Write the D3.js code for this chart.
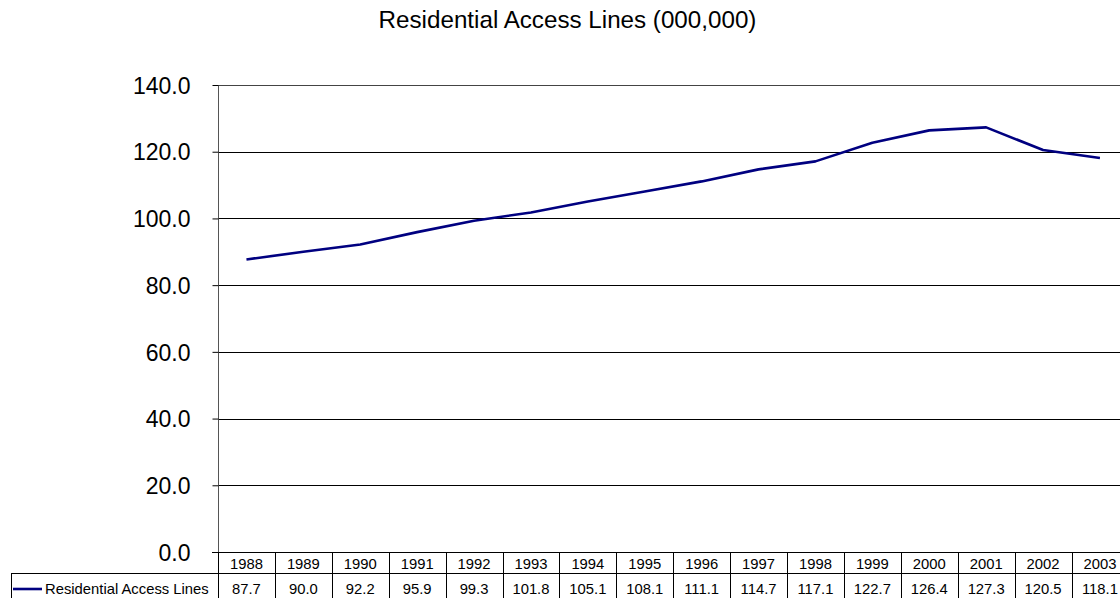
<!DOCTYPE html>
<html>
<head>
<meta charset="utf-8">
<script src="https://cdn.jsdelivr.net/npm/d3@7"></script>
<style>
  html, body { margin: 0; padding: 0; background: #fff; overflow: hidden; }
  svg { display: block; font-family: "Liberation Sans", Arial, sans-serif; }
</style>
</head>
<body>
<svg id="chart" width="1120" height="598"></svg>
<script>
// Residential access lines, millions
const years = ["1988","1989","1990","1991","1992","1993","1994","1995","1996","1997","1998","1999","2000","2001","2002","2003"];
const lines = [87.7, 90.0, 92.2, 95.9, 99.3, 101.8, 105.1, 108.1, 111.1, 114.7, 117.1, 122.7, 126.4, 127.3, 120.5, 118.1];
const yTicks = [0, 20, 40, 60, 80, 100, 120, 140];
const seriesName = "Residential Access Lines";
const title = "Residential Access Lines (000,000)";

const svg = d3.select("#chart");
const plotLeft = 218, plotRight = 218 + 16 * 56.9, plotTop = 85, plotBottom = 552;
const tableFont = 14.8;

const x = d3.scaleBand().domain(years).range([plotLeft, plotRight]);
const y = d3.scaleLinear().domain([0, 140]).range([plotBottom, plotTop]);

// title
svg.append("text")
  .attr("x", 567.5).attr("y", 28)
  .attr("text-anchor", "middle")
  .attr("font-size", 24.2)
  .attr("fill", "#000")
  .text(title);

// horizontal gridlines
svg.append("g").selectAll("line").data(yTicks.filter(d => d > 0)).join("line")
  .attr("x1", plotLeft).attr("x2", plotRight)
  .attr("y1", d => Math.round(y(d)) + 0.5).attr("y2", d => Math.round(y(d)) + 0.5)
  .attr("stroke", d => d === 140 ? "#444" : "#000").attr("stroke-width", 1);

// y axis
const yAxis = d3.axisLeft(y).tickValues(yTicks).tickSize(6).tickPadding(22)
  .tickFormat(d3.format(".1f"));
const gy = svg.append("g").attr("transform", `translate(${plotLeft + 0.5},0)`).call(yAxis);
gy.select(".domain").attr("stroke", "#555").attr("d", `M0,${plotTop}V${plotBottom}`);
gy.selectAll(".tick line").attr("stroke", "#000");
gy.selectAll(".tick text").attr("font-size", 23).attr("fill", "#000")
  .attr("font-family", "'Liberation Sans', Arial, sans-serif").attr("dy", "0.36em");

// data line
const lineGen = d3.line()
  .x((d, i) => x(years[i]) + x.bandwidth() / 2)
  .y(d => y(d));
svg.append("path").datum(lines)
  .attr("d", lineGen)
  .attr("fill", "none")
  .attr("stroke", "#000080")
  .attr("stroke-width", 2.6)
  .attr("stroke-linejoin", "round");

// data table below the axis
const table = svg.append("g");
const tY0 = plotBottom, tY1 = 573, tY2 = 598;
table.append("line").attr("x1", plotLeft - 6).attr("x2", plotRight)
  .attr("y1", tY0 + 0.5).attr("y2", tY0 + 0.5).attr("stroke", "#000");
table.append("line").attr("x1", 11).attr("x2", plotRight)
  .attr("y1", tY1 + 0.5).attr("y2", tY1 + 0.5).attr("stroke", "#000");
table.append("line").attr("x1", 11.5).attr("x2", 11.5)
  .attr("y1", tY1).attr("y2", tY2).attr("stroke", "#000");
const colEdges = years.map(d => x(d)).concat([plotRight]);
table.selectAll("line.col").data(colEdges).join("line").attr("class", "col")
  .attr("x1", d => Math.round(d) + 0.5).attr("x2", d => Math.round(d) + 0.5)
  .attr("y1", tY0).attr("y2", tY2)
  .attr("stroke", "#000");
table.selectAll("text.yr").data(years).join("text").attr("class", "yr")
  .attr("x", d => x(d) + x.bandwidth() / 2).attr("y", 568.5)
  .attr("text-anchor", "middle").attr("font-size", tableFont).attr("fill", "#000")
  .text(d => d);
table.selectAll("text.val").data(lines).join("text").attr("class", "val")
  .attr("x", (d, i) => x(years[i]) + x.bandwidth() / 2).attr("y", 593.5)
  .attr("text-anchor", "middle").attr("font-size", tableFont).attr("fill", "#000")
  .text(d => d3.format(".1f")(d));
// legend key
table.append("line").attr("x1", 13).attr("x2", 42)
  .attr("y1", 589).attr("y2", 589)
  .attr("stroke", "#000080").attr("stroke-width", 2.6);
table.append("text").attr("x", 45).attr("y", 593.5)
  .attr("font-size", tableFont).attr("fill", "#000").text(seriesName);
</script>
</body>
</html>
